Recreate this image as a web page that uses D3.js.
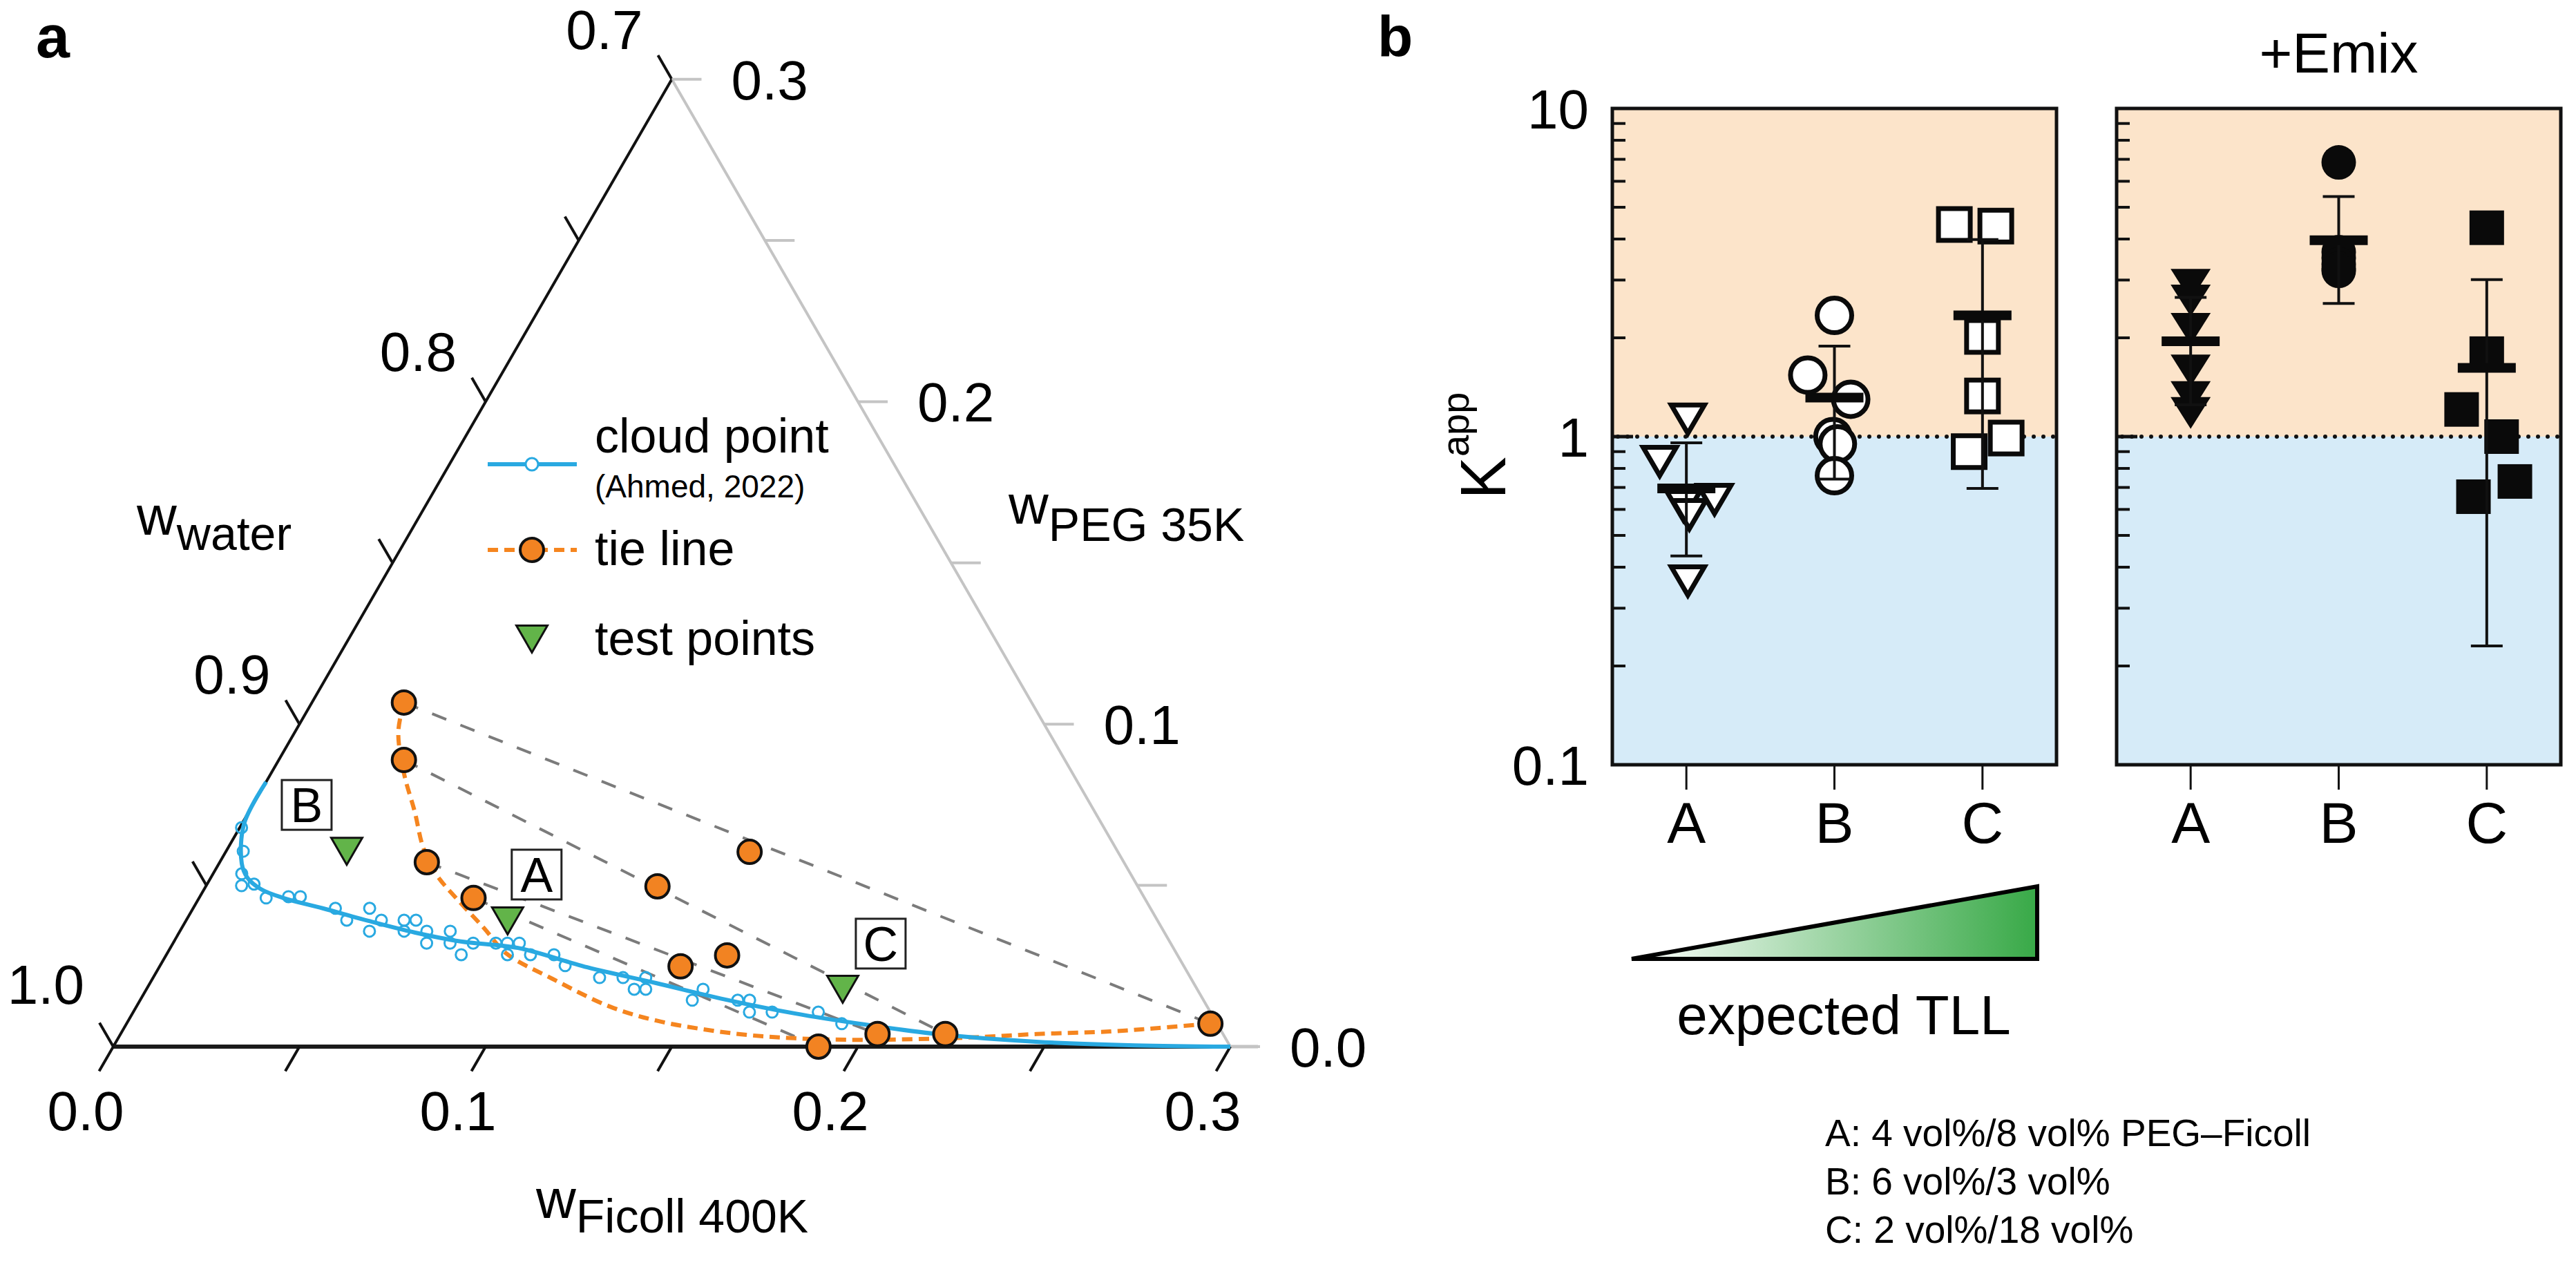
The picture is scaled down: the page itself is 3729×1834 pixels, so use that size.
<!DOCTYPE html>
<html>
<head>
<meta charset="utf-8">
<script src="https://cdn.jsdelivr.net/npm/d3@7"></script>
<style>
  body { margin: 0; background: #fff; }
  text { font-family: "Liberation Sans", Arial, Helvetica, sans-serif; fill: #000; }
</style>
</head>
<body>
<script>
// ---- panel a : ternary data, [Ficoll, PEG] weight fractions ----
const cloudPoints = [
  [0.0005, 0.0679], [0.0046, 0.0606], [0.0077, 0.0536], [0.0095, 0.0499], [0.0126, 0.0504],
  [0.0180, 0.0461], [0.0238, 0.0465], [0.0270, 0.0465], [0.0382, 0.0429], [0.0431, 0.0392],
  [0.0474, 0.0429], [0.0509, 0.0358], [0.0524, 0.0392], [0.0585, 0.0392], [0.0602, 0.0358],
  [0.0617, 0.0392], [0.0663, 0.0358], [0.0681, 0.0321], [0.0726, 0.0358], [0.0744, 0.0321],
  [0.0792, 0.0285], [0.0806, 0.0321], [0.0867, 0.0321], [0.0898, 0.0321], [0.0916, 0.0285],
  [0.0930, 0.0321], [0.0978, 0.0285], [0.1041, 0.0285], [0.1088, 0.0251], [0.1199, 0.0214],
  [0.1262, 0.0214], [0.1310, 0.0178], [0.1323, 0.0214], [0.1341, 0.0178], [0.1483, 0.0144],
  [0.1495, 0.0178], [0.1605, 0.0144], [0.1637, 0.0144], [0.1655, 0.0107], [0.1716, 0.0107],
  [0.1840, 0.0107], [0.1921, 0.0071]
];
const cloudCurve = [
  [0.0000, 0.0821], [0.0006, 0.0690], [0.0061, 0.0568], [0.0097, 0.0525], [0.0151, 0.0489],
  [0.0226, 0.0461], [0.0348, 0.0429], [0.0490, 0.0390], [0.0632, 0.0354], [0.0770, 0.0326],
  [0.0934, 0.0306], [0.1150, 0.0246], [0.1359, 0.0197], [0.1571, 0.0146], [0.1778, 0.0103],
  [0.1981, 0.0069], [0.2194, 0.0039], [0.2471, 0.0015], [0.2742, 0.0004], [0.3000, 0.0000]
];
const binodalCurve = [
  [0.0247, 0.1067], [0.0278, 0.0975], [0.0358, 0.0846], [0.0445, 0.0729], [0.0524, 0.0617],
  [0.0604, 0.0531], [0.0690, 0.0461], [0.0810, 0.0369], [0.0911, 0.0289], [0.1075, 0.0210],
  [0.1272, 0.0124], [0.1417, 0.0081], [0.1556, 0.0054], [0.1687, 0.0036], [0.1816, 0.0026],
  [0.2004, 0.0021], [0.2279, 0.0028], [0.2460, 0.0039], [0.2653, 0.0047], [0.2780, 0.0058],
  [0.2911, 0.0071]
];
const tieLeft = [[0.0247, 0.1067], [0.0336, 0.0889], [0.0556, 0.0572], [0.0737, 0.0461]];
const tieRight = [[0.2911, 0.0071], [0.2215, 0.0039], [0.2033, 0.0039], [0.1894, 0.0000]];
const tieFeeds = [[0.1407, 0.0604], [0.1213, 0.0497], [0.1399, 0.0249], [0.1507, 0.0283]];
const testNames = ['A', 'B', 'C'];
const testPoints = [[0.0864, 0.0390], [0.0324, 0.0606], [0.1870, 0.0178]];
const waterTicks = [1.0, 0.9, 0.8, 0.7];
const pegTicks = [0.0, 0.1, 0.2, 0.3];
const ficollTicks = [0.0, 0.1, 0.2, 0.3];

// ---- panel b : apparent partition coefficients ----
const categories = ['A', 'B', 'C'];
const kappPlain = [
  [1.13, 0.84, 0.616, 0.578, 0.643, 0.363],
  [2.34, 1.54, 1.30, 1.00, 0.95, 0.76],
  [4.43, 4.38, 2.02, 1.33, 0.90, 0.99]
];
const kappEmix = [
  [2.90, 2.60, 2.13, 1.59, 1.32, 1.18],
  [6.85, 3.65, 3.50, 3.35, 3.25, 3.20],
  [4.33, 1.79, 1.21, 1.00, 0.73, 0.656]
];
// horizontal scatter of the points, in units of the category step
const jitterPlain = [
  [0.01, -0.18, -0.02, 0.02, 0.19, 0.01],
  [0.00, -0.18, 0.11, -0.01, 0.02, 0.00],
  [-0.19, 0.09, 0.00, 0.00, -0.09, 0.16]
];
const jitterEmix = [
  [0, 0, 0, 0, 0, 0],
  [0, 0, 0, 0, 0, 0],
  [0.00, 0.00, -0.17, 0.10, 0.19, -0.09]
];
const yTickLabels = [10, 1, 0.1];
const noteLines = ['A: 4 vol%/8 vol% PEG\u2013Ficoll', 'B: 6 vol%/3 vol%', 'C: 2 vol%/18 vol%'];

const w = 3729;
const h = 1834;
const fmt1 = d3.format('.1f');

const svg = d3.select('body')
  .append('svg')
  .attr('width', w)
  .attr('height', h);

// ================= panel a =================
const side = 1617;
const tx = d3.scaleLinear().domain([0, 0.3]).range([164, 164 + side]);
const ty = d3.scaleLinear().domain([0, 0.3]).range([1515, 1515 - side * Math.sqrt(3) / 2]);
const proj = (d) => [tx(d[0] + d[1] / 2), ty(d[1])];

const ga = svg.append('g');

ga.append('text').attr('x', 52).attr('y', 83)
  .attr('font-size', 88).attr('font-weight', 'bold').text('a');

const BL = proj([0, 0]), BR = proj([0.3, 0]), TOP = proj([0, 0.3]);
ga.append('line').attr('x1', BR[0]).attr('y1', BR[1]).attr('x2', TOP[0]).attr('y2', TOP[1])
  .attr('stroke', '#c4c4c4').attr('stroke-width', 4);
ga.append('line').attr('x1', BL[0]).attr('y1', BL[1]).attr('x2', TOP[0]).attr('y2', TOP[1])
  .attr('stroke', '#111').attr('stroke-width', 4);
ga.append('line').attr('x1', BL[0]).attr('y1', BL[1]).attr('x2', BR[0] + 40).attr('y2', BR[1])
  .attr('stroke', '#c4c4c4').attr('stroke-width', 5);
ga.append('line').attr('x1', BL[0]).attr('y1', BL[1]).attr('x2', BR[0]).attr('y2', BR[1])
  .attr('stroke', '#1a1a1a').attr('stroke-width', 6);

const steps = d3.range(7).map(i => i * 0.05);
// water axis (left side, Ficoll = 0)
steps.forEach(v => {
  const p = proj([0, v]);
  ga.append('line').attr('x1', p[0]).attr('y1', p[1]).attr('x2', p[0] - 20).attr('y2', p[1] - 34.6)
    .attr('stroke', '#111').attr('stroke-width', 4);
});
waterTicks.forEach(v => {
  const p = proj([0, 1 - v]);
  const lift = v === 1 ? 62 : 44;
  ga.append('text').attr('x', p[0] - 42).attr('y', p[1] - lift)
    .attr('text-anchor', 'end').attr('font-size', 80).text(fmt1(v));
});
// PEG axis (right side)
steps.forEach(v => {
  const p = proj([0.3 - v, v]);
  ga.append('line').attr('x1', p[0]).attr('y1', p[1]).attr('x2', p[0] + 43).attr('y2', p[1])
    .attr('stroke', '#c4c4c4').attr('stroke-width', 4);
});
pegTicks.forEach(v => {
  const p = proj([0.3 - v, v]);
  ga.append('text').attr('x', p[0] + 86).attr('y', p[1] + 29)
    .attr('font-size', 80).text(fmt1(v));
});
// Ficoll axis (bottom)
steps.forEach(v => {
  const p = proj([v, 0]);
  ga.append('line').attr('x1', p[0]).attr('y1', p[1]).attr('x2', p[0] - 20.5).attr('y2', p[1] + 35.5)
    .attr('stroke', '#111').attr('stroke-width', 4);
});
ficollTicks.forEach(v => {
  const p = proj([v, 0]);
  ga.append('text').attr('x', p[0] - 40).attr('y', 1636)
    .attr('text-anchor', 'middle').attr('font-size', 80).text(fmt1(v));
});

// axis titles
const subTitle = (x, y, sub, shift) => {
  const t = ga.append('text').attr('x', x).attr('y', y).attr('font-size', 80);
  t.append('tspan').text('w');
  t.append('tspan').attr('font-size', 68).attr('dy', shift).text(sub);
};
subTitle(198, 774, 'water', 22);
subTitle(1460, 758, 'PEG 35K', 25);
subTitle(776, 1763, 'Ficoll 400K', 21);

// tie lines
tieLeft.forEach((d, i) => {
  const a = proj(d), b = proj(tieRight[i]);
  ga.append('line').attr('x1', a[0]).attr('y1', a[1]).attr('x2', b[0]).attr('y2', b[1])
    .attr('stroke', '#7b7b7b').attr('stroke-width', 4).attr('stroke-dasharray', '22 22');
});

const lineGen = d3.line().curve(d3.curveCatmullRom.alpha(0.5));

// binodal from tie lines
ga.append('path').attr('d', lineGen(binodalCurve.map(proj)))
  .attr('fill', 'none').attr('stroke', '#f5851f').attr('stroke-width', 6)
  .attr('stroke-dasharray', '15 9');

// cloud point curve + points
ga.append('path').attr('d', lineGen(cloudCurve.map(proj)))
  .attr('fill', 'none').attr('stroke', '#29a9e1').attr('stroke-width', 6);
ga.selectAll('.cp').data(cloudPoints).enter().append('circle')
  .attr('class', 'cp')
  .attr('cx', d => proj(d)[0]).attr('cy', d => proj(d)[1]).attr('r', 8)
  .attr('fill', 'none').attr('stroke', '#29a9e1').attr('stroke-width', 3);

// tie line compositions
const orangeDots = tieLeft.concat(tieFeeds, tieRight);
ga.selectAll('.od').data(orangeDots).enter().append('circle')
  .attr('class', 'od')
  .attr('cx', d => proj(d)[0]).attr('cy', d => proj(d)[1]).attr('r', 17)
  .attr('fill', '#f28322').attr('stroke', '#111').attr('stroke-width', 4);

// test points
const triDown = (tw, th) => `M${-tw / 2},${-th / 2}L${tw / 2},${-th / 2}L0,${th / 2}Z`;
const boxOffset = { A: [42, -67], B: [-58, -67], C: [55, -66] };
testPoints.forEach((d, i) => {
  const p = proj(d);
  ga.append('path').attr('d', triDown(45, 39))
    .attr('transform', `translate(${p[0]},${p[1]})`)
    .attr('fill', '#62b449').attr('stroke', '#111').attr('stroke-width', 3);
  const o = boxOffset[testNames[i]];
  ga.append('rect').attr('x', p[0] + o[0] - 36).attr('y', p[1] + o[1] - 36)
    .attr('width', 72).attr('height', 72)
    .attr('fill', '#fff').attr('stroke', '#222').attr('stroke-width', 3);
  ga.append('text').attr('x', p[0] + o[0]).attr('y', p[1] + o[1] + 25)
    .attr('text-anchor', 'middle').attr('font-size', 70).text(testNames[i]);
});

// legend
const lg = ga.append('g');
lg.append('line').attr('x1', 706).attr('x2', 835).attr('y1', 672).attr('y2', 672)
  .attr('stroke', '#29a9e1').attr('stroke-width', 6);
lg.append('circle').attr('cx', 770).attr('cy', 672).attr('r', 9)
  .attr('fill', '#fff').attr('stroke', '#29a9e1').attr('stroke-width', 3);
lg.append('text').attr('x', 861).attr('y', 655).attr('font-size', 70).text('cloud point');
lg.append('text').attr('x', 861).attr('y', 720).attr('font-size', 46).text('(Ahmed, 2022)');
lg.append('line').attr('x1', 706).attr('x2', 835).attr('y1', 796).attr('y2', 796)
  .attr('stroke', '#f5851f').attr('stroke-width', 6).attr('stroke-dasharray', '15 9');
lg.append('circle').attr('cx', 770).attr('cy', 796).attr('r', 17)
  .attr('fill', '#f28322').attr('stroke', '#111').attr('stroke-width', 4);
lg.append('text').attr('x', 861).attr('y', 818).attr('font-size', 70).text('tie line');
lg.append('path').attr('d', triDown(45, 39)).attr('transform', 'translate(770,925)')
  .attr('fill', '#62b449').attr('stroke', '#111').attr('stroke-width', 3);
lg.append('text').attr('x', 861).attr('y', 948).attr('font-size', 70).text('test points');

// ================= panel b =================
const gb = svg.append('g');
gb.append('text').attr('x', 1994).attr('y', 82)
  .attr('font-size', 84).attr('font-weight', 'bold').text('b');

const yK = d3.scaleLog().domain([0.1, 10]).range([1107, 157]);
const panelW = 643;
const minorTicks = [0.2, 0.3, 0.4, 0.5, 0.6, 0.7, 0.8, 0.9, 2, 3, 4, 5, 6, 7, 8, 9];

const drawPanel = (x0, values, jitter, filled) => {
  const g = gb.append('g');
  const xs = d3.scalePoint().domain(categories).range([x0, x0 + panelW]).padding(0.5);
  const step = xs.step();

  g.append('rect').attr('x', x0).attr('y', yK(10)).attr('width', panelW)
    .attr('height', yK(1) - yK(10)).attr('fill', '#fce4ca');
  g.append('rect').attr('x', x0).attr('y', yK(1)).attr('width', panelW)
    .attr('height', yK(0.1) - yK(1)).attr('fill', '#d6ebf8');

  minorTicks.forEach(v => {
    g.append('line').attr('x1', x0).attr('x2', x0 + 19).attr('y1', yK(v)).attr('y2', yK(v))
      .attr('stroke', '#111').attr('stroke-width', 4);
  });
  g.append('line').attr('x1', x0).attr('x2', x0 + 30).attr('y1', yK(1)).attr('y2', yK(1))
    .attr('stroke', '#111').attr('stroke-width', 5);

  g.append('line').attr('x1', x0 + 8).attr('x2', x0 + panelW).attr('y1', yK(1)).attr('y2', yK(1))
    .attr('stroke', '#111').attr('stroke-width', 6).attr('stroke-linecap', 'round')
    .attr('stroke-dasharray', '0 14');

  g.append('rect').attr('x', x0).attr('y', yK(10)).attr('width', panelW)
    .attr('height', yK(0.1) - yK(10)).attr('fill', 'none')
    .attr('stroke', '#111').attr('stroke-width', 5);

  categories.forEach(c => {
    g.append('line').attr('x1', xs(c)).attr('x2', xs(c)).attr('y1', yK(0.1)).attr('y2', yK(0.1) + 36)
      .attr('stroke', '#111').attr('stroke-width', 3);
    g.append('text').attr('x', xs(c)).attr('y', 1220).attr('text-anchor', 'middle')
      .attr('font-size', 84).text(c);
  });

  const fill = filled ? '#0a0a0a' : '#fff';
  const sw = filled ? 0 : 7;
  categories.forEach((c, ci) => {
    values[ci].forEach((v, i) => {
      const cx = xs(c) + jitter[ci][i] * step;
      const cy = yK(v);
      let m;
      if (c === 'A') {
        m = g.append('path').attr('d', filled ? triDown(58, 46) : triDown(48, 41));
      } else if (c === 'B') {
        m = g.append('circle').attr('r', 25);
      } else {
        const s = filled ? 50 : 46;
        m = g.append('rect').attr('x', -s / 2).attr('y', -s / 2).attr('width', s).attr('height', s);
      }
      m.attr('transform', `translate(${cx},${cy})`)
        .attr('fill', fill).attr('stroke', '#0a0a0a').attr('stroke-width', sw)
        .attr('stroke-linejoin', 'miter');
    });

    const mean = d3.mean(values[ci]);
    const sd = d3.deviation(values[ci]);
    const x = xs(c);
    g.append('line').attr('x1', x).attr('x2', x).attr('y1', yK(mean - sd)).attr('y2', yK(mean + sd))
      .attr('stroke', '#111').attr('stroke-width', 4);
    [mean - sd, mean + sd].forEach(e => {
      g.append('line').attr('x1', x - 23).attr('x2', x + 23).attr('y1', yK(e)).attr('y2', yK(e))
        .attr('stroke', '#111').attr('stroke-width', 4);
    });
    g.append('line').attr('x1', x - 42).attr('x2', x + 42).attr('y1', yK(mean)).attr('y2', yK(mean))
      .attr('stroke', '#0a0a0a').attr('stroke-width', 14);
  });
  return xs;
};

drawPanel(2334, kappPlain, jitterPlain, false);
const xsRight = drawPanel(3064, kappEmix, jitterEmix, true);

yTickLabels.forEach(v => {
  gb.append('text').attr('x', 2300).attr('y', yK(v)).attr('dy', '0.36em')
    .attr('text-anchor', 'end').attr('font-size', 80).text(v);
});

const kl = gb.append('text').attr('transform', 'translate(2179,645) rotate(-90)')
  .attr('text-anchor', 'middle').attr('font-size', 92);
kl.append('tspan').text('K');
kl.append('tspan').attr('font-size', 56).attr('dy', -53).text('app');

gb.append('text').attr('x', xsRight('B')).attr('y', 105).attr('text-anchor', 'middle')
  .attr('font-size', 82).text('+Emix');

// expected tie-line length wedge
const defs = svg.append('defs');
const grad = defs.append('linearGradient').attr('id', 'tll').attr('x1', '0%').attr('x2', '100%');
grad.append('stop').attr('offset', '0%').attr('stop-color', '#ffffff');
grad.append('stop').attr('offset', '100%').attr('stop-color', '#38a947');
gb.append('path').attr('d', 'M2362,1388L2949,1283L2949,1388Z')
  .attr('fill', 'url(#tll)').attr('stroke', '#000').attr('stroke-width', 6)
  .attr('stroke-linejoin', 'miter');
gb.append('text').attr('x', 2669).attr('y', 1497).attr('text-anchor', 'middle')
  .attr('font-size', 80).text('expected TLL');

noteLines.forEach((t, i) => {
  gb.append('text').attr('x', 2642).attr('y', 1659 + i * 70).attr('font-size', 55).text(t);
});
</script>
</body>
</html>
